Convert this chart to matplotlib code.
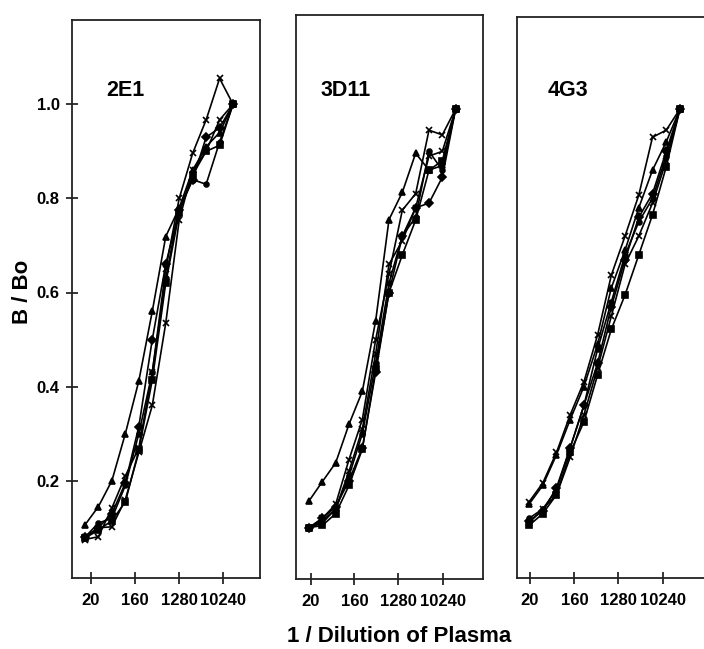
import matplotlib
matplotlib.use("Agg")
import matplotlib.pyplot as plt

# dilution series, 2-fold steps from 1:20
dilution = [20, 40, 80, 160, 320, 640, 1280, 2560, 5120, 10240, 20480, 40960]
tick_labels = ["20", "160", "1280", "10240"]
antibodies = ["2E1", "3D11", "4G3"]
markers = ["^", "D", "s", "o", "x", "x"]

# 2E1
e1_tri = [0.106, 0.145, 0.20, 0.30, 0.412, 0.56, 0.719, 0.78, 0.86, 0.91, 0.94, 1.0]
e1_dia = [0.08, 0.10, 0.13, 0.195, 0.315, 0.50, 0.66, 0.775, 0.84, 0.93, 0.95, 1.0]
e1_sq = [0.078, 0.095, 0.115, 0.155, 0.265, 0.414, 0.62, 0.77, 0.85, 0.90, 0.913, 1.0]
e1_circ = [0.08, 0.11, 0.12, 0.19, 0.30, 0.43, 0.63, 0.78, 0.84, 0.83, 0.92, 1.0]
e1_xa = [0.075, 0.081, 0.142, 0.21, 0.27, 0.43, 0.65, 0.80, 0.896, 0.967, 1.055, 1.0]
e1_xb = [0.08, 0.10, 0.102, 0.16, 0.26, 0.36, 0.535, 0.754, 0.86, 0.90, 0.967, 1.0]

# 3D11
d11_tri = [0.157, 0.198, 0.238, 0.32, 0.39, 0.54, 0.755, 0.813, 0.896, 0.86, 0.87, 0.99]
d11_dia = [0.10, 0.12, 0.145, 0.20, 0.27, 0.43, 0.60, 0.72, 0.78, 0.79, 0.845, 0.99]
d11_sq = [0.10, 0.105, 0.13, 0.19, 0.267, 0.437, 0.60, 0.68, 0.754, 0.86, 0.88, 0.99]
d11_circ = [0.10, 0.11, 0.14, 0.21, 0.30, 0.45, 0.62, 0.72, 0.76, 0.90, 0.86, 0.99]
d11_xa = [0.10, 0.12, 0.15, 0.245, 0.33, 0.50, 0.64, 0.775, 0.81, 0.945, 0.935, 0.99]
d11_xb = [0.10, 0.115, 0.14, 0.22, 0.31, 0.47, 0.66, 0.71, 0.78, 0.89, 0.90, 0.99]

# 4G3
g3_tri = [0.15, 0.19, 0.255, 0.33, 0.40, 0.49, 0.61, 0.69, 0.78, 0.86, 0.92, 0.99]
g3_dia = [0.115, 0.135, 0.185, 0.27, 0.36, 0.45, 0.57, 0.67, 0.76, 0.81, 0.90, 0.99]
g3_sq = [0.105, 0.13, 0.17, 0.26, 0.325, 0.425, 0.522, 0.595, 0.68, 0.765, 0.867, 0.99]
g3_circ = [0.12, 0.14, 0.18, 0.27, 0.36, 0.48, 0.58, 0.68, 0.75, 0.80, 0.89, 0.99]
g3_xa = [0.155, 0.195, 0.26, 0.34, 0.41, 0.51, 0.637, 0.72, 0.807, 0.93, 0.945, 0.99]
g3_xb = [0.11, 0.14, 0.17, 0.25, 0.34, 0.44, 0.55, 0.66, 0.72, 0.79, 0.88, 0.99]

panels = [
    [e1_tri, e1_dia, e1_sq, e1_circ, e1_xa, e1_xb],
    [d11_tri, d11_dia, d11_sq, d11_circ, d11_xa, d11_xb],
    [g3_tri, g3_dia, g3_sq, g3_circ, g3_xa, g3_xb],
]

# layout (pixels in a 704x649 figure)
W, H = 704, 649
boxes = [(72.3, 20, 260, 577.7), (295.7, 15, 482.7, 578.7), (516.7, 16.7, 706, 578)]
xlims = [(-0.94, 13.0), (-1.0, 13.03), (-0.9, 12.9)]
tick_steps = [[0.42, 3.72, 6.99, 10.26], [0.13, 3.40, 6.70, 10.03], [0.07, 3.30, 6.50, 9.75]]
label_pos = [(106, 90.5), (320.7, 90), (547.7, 90.8)]

font = "Liberation Sans"

fig = plt.figure(figsize=(W / 100, H / 100), dpi=100)

for i, series in enumerate(panels):
    l, t, r, b = boxes[i]
    ax = fig.add_axes([l / W, 1 - b / H, (r - l) / W, (b - t) / H])
    ax.set_xscale("log", base=2)
    for y, m in zip(series, markers):
        ms = 3.5 if m == "o" else 4.5
        ax.plot(dilution, y, color="black", lw=1.2, marker=m, ms=ms,
                mew=1.2, mfc="black", mec="black")
    # pixel scale: 470.5 px per unit, 1.0 at y=104.3
    ax.set_ylim(1.0 - (b - 104.3) / 470.5, 1.0 + (104.3 - t) / 470.5)
    ax.set_xlim(20 * 2 ** xlims[i][0], 20 * 2 ** xlims[i][1])
    ax.xaxis.set_minor_locator(plt.NullLocator())
    ax.set_xticks([20 * 2 ** s for s in tick_steps[i]])
    ax.set_xticklabels(tick_labels, fontsize=12, fontweight="bold", family=font)
    ax.tick_params(axis="x", direction="inout", length=8, width=1.1, pad=7)
    if i == 0:
        ax.set_yticks([0.2, 0.4, 0.6, 0.8, 1.0])
        ax.set_yticklabels(["0.2", "0.4", "0.6", "0.8", "1.0"], fontsize=12,
                           fontweight="bold", family=font)
        ax.tick_params(axis="y", direction="inout", length=8, width=1.1, pad=5)
    else:
        ax.set_yticks([])
    for sp in ax.spines.values():
        sp.set_linewidth(1.3)
        sp.set_color("#222222")
    lx, ly = label_pos[i]
    fig.text(lx / W, 1 - ly / H, antibodies[i], fontsize=15.5, fontweight="bold",
             family=font, ha="left", va="center")

fig.text(22 / W, 1 - 292 / H, "B / Bo", rotation=90, fontsize=16, fontweight="bold",
         family=font, ha="center", va="center")
fig.text(399 / W, 1 - 636 / H, "1 / Dilution of Plasma", fontsize=16, fontweight="bold",
         family=font, ha="center", va="center")

fig.savefig("out.png", dpi=100)
